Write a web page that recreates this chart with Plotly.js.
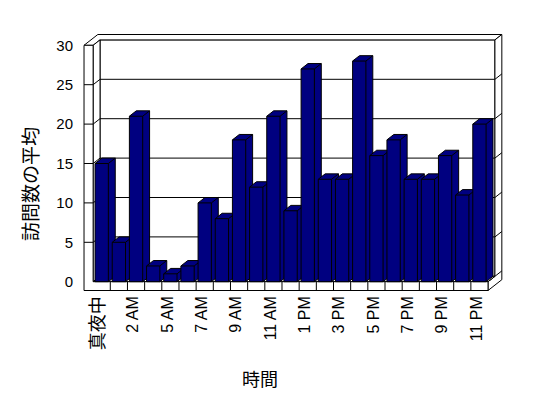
<!DOCTYPE html>
<html>
<head>
<meta charset="utf-8">
<script src="https://cdn.plot.ly/plotly-3.0.1.min.js"></script>
<style>html,body{margin:0;padding:0;background:#fff;}#chart{width:548px;height:398px;}</style>
</head>
<body>
<div id="chart"></div>
<script>
// ---- data ----
const categories = ['真夜中','1 AM','2 AM','3 AM','5 AM','6 AM','7 AM','8 AM','9 AM','10 AM','11 AM','12 PM',
                    '1 PM','2 PM','3 PM','4 PM','5 PM','6 PM','7 PM','8 PM','9 PM','10 PM','11 PM'];
const visits = [15,5,21,2,1,2,10,8,18,12,21,9,27,13,13,28,16,18,13,13,16,11,20];
const yTicks = [0,5,10,15,20,25,30];
const xTitle = '時間';
const yTitle = '訪問数の平均';

// ---- geometry / style (pixels converted to axis units) ----
const PX_CAT = 17.17, PX_UNIT = 7.88;
const DX = 6.9 / PX_CAT, DY = 5.4 / PX_UNIT;   // projection of one depth step
const HALF = 13.3 / PX_CAT / 2;                // half bar width
const yMax = yTicks[yTicks.length - 1];
const n = categories.length;
const xL = -0.5, xR = n - 0.5;                  // front plane category bounds
const xWall = xL - 9.1 / PX_CAT;                // outer face of left wall
const yFloor = -8.8 / PX_UNIT;                  // bottom of floor slab
const NAVY = '#000080';

function P(x, y, z) { return [x + z * DX, y + z * DY]; }
function trace(segs, fillcolor) {
  const xs = [], ys = [];
  segs.forEach((s, i) => {
    if (i) { xs.push(null); ys.push(null); }
    s.forEach(p => { xs.push(p[0]); ys.push(p[1]); });
  });
  const t = { x: xs, y: ys, type: 'scatter', mode: 'lines', line: { color: '#000', width: 1 },
              hoverinfo: 'skip', showlegend: false };
  if (fillcolor) { t.fill = 'toself'; t.fillcolor = fillcolor; }
  return t;
}
function closed(pts) { return pts.concat([pts[0]]); }

const inner = yTicks.filter(v => v > 0 && v < yMax);
const traces = [];
// back wall front face + gridlines
traces.push(trace([closed([P(xL,0,1), P(xL,yMax,1), P(xR,yMax,1), P(xR,0,1)])], '#fff'));
traces.push(trace(inner.map(v => [P(xL,v,1), P(xR,v,1)])));
// top face (left wall + back wall)
traces.push(trace([closed([P(xWall,yMax,0), P(xWall,yMax,2), P(xR,yMax,2), P(xR,yMax,1), P(xL,yMax,1), P(xL,yMax,0)])], '#fff'));
// right side face (back wall + floor)
traces.push(trace([closed([P(xR,yMax,1), P(xR,yMax,2), P(xR,yFloor,2), P(xR,yFloor,0), P(xR,0,0), P(xR,0,1)])], '#fff'));
traces.push(trace(inner.map(v => [P(xR,v,1), P(xR,v,2)]).concat([[P(xR,0,0), P(xR,0,2)]])));
// left wall inner face
traces.push(trace([closed([P(xL,0,0), P(xL,yMax,0), P(xL,yMax,1), P(xL,0,1)])], '#fff'));
traces.push(trace(inner.map(v => [P(xL,v,0), P(xL,v,1)])));
// floor top
traces.push(trace([closed([P(xL,0,0), P(xR,0,0), P(xR,0,1), P(xL,0,1)])], '#fff'));
// front face of left wall + floor
traces.push(trace([closed([P(xWall,yMax,0), P(xL,yMax,0), P(xL,0,0), P(xR,0,0), P(xR,yFloor,0), P(xWall,yFloor,0)])], '#fff'));
traces.push(trace(inner.map(v => [P(xWall,v,0), P(xL,v,0)])
  .concat(categories.slice(1).map((c, i) => [P(i + 0.5, 0, 0), P(i + 0.5, yFloor, 0)]))));
// bars, left to right
visits.forEach((v, i) => {
  const a = i - HALF, b = i + HALF;
  traces.push(trace([
    closed([P(a,0,0), P(a,v,0), P(a,v,1), P(b,v,1), P(b,0,1), P(b,0,0)]),
    [P(a,v,0), P(b,v,0), P(b,0,0)],
    [P(b,v,0), P(b,v,1)]
  ], NAVY));
});

// axis ranges so that the pixel mapping matches the reference
const L = 80, R = 510, T = 30, B = 292, W = 548, H = 398;
const cx0 = 101.7, y0px = 281.7;
const xRange = [(L - cx0) / PX_CAT, (R - cx0) / PX_CAT];
const yRange = [(y0px - B) / PX_UNIT, (y0px - T) / PX_UNIT];

const tickIdx = categories.map((c, i) => i).filter(i => i % 2 === 0);
const tickText = tickIdx.map(i => /[^\x00-\x7F]/.test(categories[i])
  ? '<span style="font-size:18px;fill:#000">' + categories[i] + '</span>' : categories[i]);

const layout = {
  width: W, height: H,
  margin: { l: L, r: W - R, t: T, b: H - B, pad: 0 },
  paper_bgcolor: '#fff', plot_bgcolor: '#fff',
  font: { family: 'Liberation Sans, Arial, Noto Sans CJK JP, sans-serif', size: 15, color: '#000' },
  xaxis: { range: xRange, showgrid: false, zeroline: false, showline: false, ticks: '',
           tickmode: 'array', tickvals: tickIdx, ticktext: tickText, tickangle: -90, ticklabelshift: -3,
           tickfont: { size: 16, color: '#000', family: 'Liberation Sans, Noto Sans CJK JP, sans-serif' }, fixedrange: true },
  yaxis: { range: yRange, showgrid: false, zeroline: false, showline: false, ticks: '',
           tickmode: 'array', tickvals: yTicks, ticklabelstandoff: 6,
           tickfont: { size: 15, color: '#000', family: 'Liberation Sans, Arial, sans-serif' }, fixedrange: true },
  annotations: [
    { text: yTitle, xref: 'paper', yref: 'paper', x: (29 - L) / (R - L), y: (B - 184) / (B - T),
      xanchor: 'center', yanchor: 'middle', textangle: -90, showarrow: false,
      font: { family: 'Noto Sans CJK JP, sans-serif', size: 19, color: '#000' } },
    { text: xTitle, xref: 'paper', yref: 'paper', x: (260 - L) / (R - L), y: (B - 378) / (B - T),
      xanchor: 'center', yanchor: 'middle', showarrow: false,
      font: { family: 'Noto Sans CJK JP, sans-serif', size: 18, color: '#000' } }
  ],
  showlegend: false
};
Plotly.newPlot('chart', traces, layout, { staticPlot: true, displayModeBar: false });
</script>
</body>
</html>
